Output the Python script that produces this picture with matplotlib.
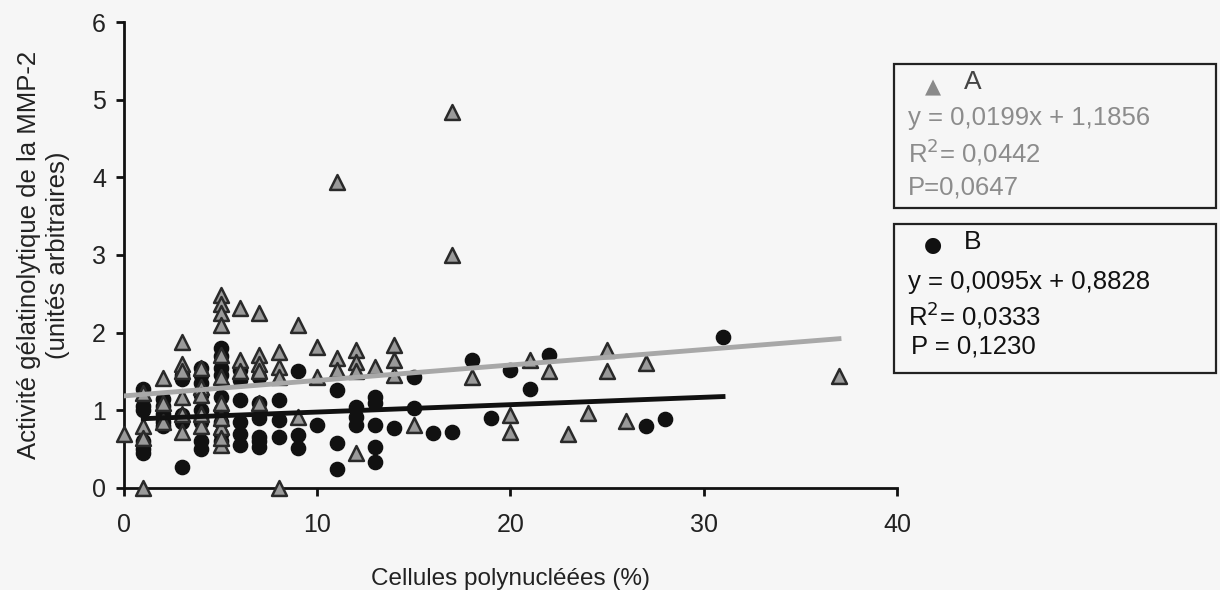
import matplotlib.pyplot as plt
import numpy as np
from matplotlib.patches import Rectangle

plt.rcParams['font.family'] = ['Liberation Sans Narrow', 'Liberation Sans', 'DejaVu Sans']

# groupe A (triangles gris)
a_x = [0, 1, 1, 1, 1, 2, 2, 2, 3, 3, 3, 3, 3, 3, 4, 4, 4, 4, 4,
       5, 5, 5, 5, 5, 5, 5, 5, 5, 5, 5, 6, 6, 6, 7, 7, 7, 7, 7,
       8, 8, 8, 8, 9, 9, 10, 10, 11, 11, 11, 12, 12, 12, 12, 13,
       14, 14, 14, 15, 17, 17, 18, 20, 20, 21, 22, 23, 24, 25, 25,
       26, 27, 37]
a_y = [0.7, 0.0, 1.22, 0.8, 0.65, 1.42, 1.1, 0.85, 1.88, 1.6, 1.5, 1.17, 0.72, 0.95,
       1.55, 1.3, 1.2, 0.8, 0.95,
       2.48, 2.37, 2.25, 2.1, 1.71, 1.43, 1.09, 0.79, 0.55, 0.65, 0.9,
       2.32, 1.65, 1.5, 2.25, 1.71, 1.6, 1.5, 1.09,
       1.75, 1.56, 1.43, 0.0, 2.1, 0.92, 1.81, 1.43, 3.94, 1.67, 1.52,
       1.78, 1.62, 1.5, 0.45, 1.56,
       1.84, 1.65, 1.45, 0.81, 4.84, 3.0, 1.43, 0.94, 0.72, 1.65, 1.51, 0.7, 0.96,
       1.78, 1.51, 0.86, 1.61, 1.44]

# groupe B (ronds noirs)
b_x = [1, 1, 1, 1, 1, 1, 2, 2, 2, 2, 2, 3, 3, 3, 3, 3,
       4, 4, 4, 4, 4, 4, 4, 4, 4, 5, 5, 5, 5, 5, 5, 5, 5, 5,
       6, 6, 6, 6, 6, 6, 7, 7, 7, 7, 7, 7, 8, 8, 8, 9, 9, 9, 10,
       11, 11, 11, 12, 12, 12, 13, 13, 13, 13, 13, 14, 15, 15, 16, 17,
       18, 19, 20, 21, 22, 27, 28, 31]
b_y = [1.28, 1.05, 1.0, 0.6, 0.5, 0.45, 1.15, 1.05, 0.95, 0.85, 0.8,
       1.45, 1.4, 0.94, 0.27, 0.85,
       1.55, 1.45, 1.35, 1.2, 1.0, 0.9, 0.85, 0.6, 0.5,
       1.8, 1.7, 1.55, 1.45, 1.17, 1.0, 0.85, 0.7, 0.6,
       1.52, 1.39, 1.13, 0.85, 0.7, 0.55, 1.43, 1.1, 0.9, 0.66, 0.53, 0.6,
       1.13, 0.87, 0.66, 1.5, 0.68, 0.52, 0.81,
       1.26, 0.58, 0.24, 1.04, 0.91, 0.81, 1.17, 1.1, 0.81, 0.53, 0.34, 0.77,
       1.43, 1.03, 0.71, 0.72, 1.65, 0.9, 1.52, 1.27, 1.71, 0.8, 0.89, 1.95]

# droites de régression
a_slope, a_inter, a_range = 0.0199, 1.1856, (0, 37)
b_slope, b_inter, b_range = 0.0095, 0.8828, (1, 31)

fig = plt.figure(figsize=(12.2, 5.9), dpi=100)
fig.patch.set_facecolor('#f6f6f6')
ax = fig.add_axes([0.1016, 0.1729, 0.6336, 0.7898])
ax.set_facecolor('#f6f6f6')

ax.scatter(b_x, b_y, marker='o', s=105, color='#111111', zorder=3, clip_on=False)
ax.scatter(a_x, a_y, marker='^', s=115, color='#9a9a9a', edgecolors='#2a2a2a',
           linewidths=1.8, zorder=4, clip_on=False)

xa = np.array(a_range)
ax.plot(xa, a_slope * xa + a_inter, color='#a8a8a8', lw=3.5, zorder=5)
xb = np.array(b_range)
ax.plot(xb, b_slope * xb + b_inter, color='#111111', lw=3.5, zorder=5)

ax.set_xlim(0, 40)
ax.set_ylim(0, 6)
ax.set_xticks([0, 10, 20, 30, 40])
ax.set_yticks(range(7))
for s in ['top', 'right']:
    ax.spines[s].set_visible(False)
for s in ['left', 'bottom']:
    ax.spines[s].set_linewidth(2)
    ax.spines[s].set_color('#111111')
ax.tick_params(axis='both', direction='out', length=6, width=2, color='#111111',
               labelsize=18, labelcolor='#222222')
ax.tick_params(axis='x', pad=12)
ax.tick_params(axis='y', pad=7)

ax.set_xlabel('Cellules polynucléées (%)', fontsize=17.5, color='#222222', labelpad=22)
ax.set_ylabel('Activité gélatinolytique de la MMP-2\n(unités arbitraires)',
              fontsize=18.5, color='#222222', labelpad=16, linespacing=1.25)

# boîtes de légende
fig.add_artist(Rectangle((0.733, 0.647), 0.264, 0.244, transform=fig.transFigure,
                         fill=False, edgecolor='#222222', lw=1.6))
fig.add_artist(Rectangle((0.733, 0.368), 0.264, 0.252, transform=fig.transFigure,
                         fill=False, edgecolor='#222222', lw=1.6))

fig.text(0.765, 0.851, '▲', fontsize=15, color='#8a8a8a', ha='center', va='center',
         family=['DejaVu Sans'])
fig.text(0.790, 0.861, 'A', fontsize=19, color='#444444', va='center')
gray = '#8c8c8c'
fig.text(0.744, 0.800, 'y = 0,0199x + 1,1856', fontsize=18.5, color=gray, va='center')
fig.text(0.744, 0.742, 'R$^2$= 0,0442', fontsize=18.5, color=gray, va='center')
fig.text(0.744, 0.683, 'P=0,0647', fontsize=18.5, color=gray, va='center')

fig.text(0.765, 0.585, '●', fontsize=15, color='#111111', ha='center', va='center',
         family=['DejaVu Sans'])
fig.text(0.790, 0.589, 'B', fontsize=19, color='#111111', va='center')
fig.text(0.744, 0.522, 'y = 0,0095x + 0,8828', fontsize=18.5, color='#111111', va='center')
fig.text(0.744, 0.466, 'R$^2$= 0,0333', fontsize=18.5, color='#111111', va='center')
fig.text(0.747, 0.412, 'P = 0,1230', fontsize=18.5, color='#111111', va='center')

fig.savefig('out.png', dpi=100, facecolor=fig.get_facecolor())
